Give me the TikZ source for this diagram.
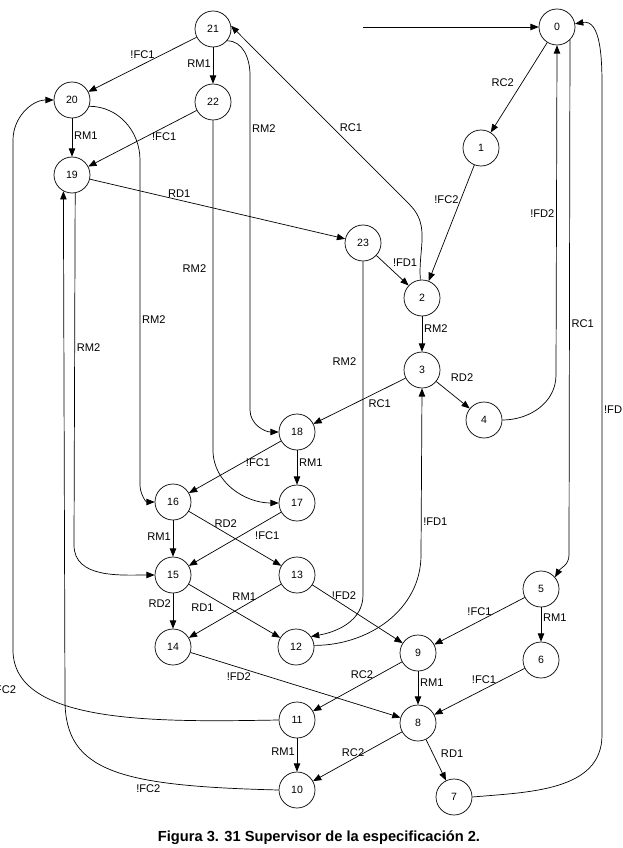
\documentclass[tikz,border=0pt]{standalone}
\usepackage{fontspec}
\setmainfont{Liberation Sans}
\usetikzlibrary{arrows.meta}

\begin{document}
\begin{tikzpicture}[x=0.03cm, y=-0.03cm,
		st/.style={draw, circle, minimum size=1.08cm, inner sep=0pt, line width=0.6pt, font=\fontsize{9}{10}\selectfont},
		arr/.style={-{Triangle[length=7pt,width=5.5pt]}, line width=0.6pt},
		lbl/.style={font=\fontsize{9.5}{11}\selectfont, inner sep=1.5pt}]
		% Frame
		\useasboundingbox (0,0) rectangle (623,848);
		
		% States
		\node[st] (s0) at (557,27) {0};
		\node[st] (s1) at (481,148) {1};
		\node[st] (s2) at (422,298) {2};
		\node[st] (s3) at (422,370) {3};
		\node[st] (s4) at (484,420) {4};
		\node[st] (s5) at (541,589) {5};
		\node[st] (s6) at (541,660) {6};
		\node[st] (s7) at (454,797) {7};
		\node[st] (s8) at (418,723) {8};
		\node[st] (s9) at (418,653) {9};
		\node[st] (s10) at (297,790) {10};
		\node[st] (s11) at (297,720) {11};
		\node[st] (s12) at (296,647) {12};
		\node[st] (s13) at (297,575) {13};
		\node[st] (s14) at (173,647) {14};
		\node[st] (s15) at (173,575) {15};
		\node[st] (s16) at (173,502) {16};
		\node[st] (s17) at (297,503) {17};
		\node[st] (s18) at (297,432) {18};
		\node[st] (s19) at (72,175) {19};
		\node[st] (s20) at (72,100) {20};
		\node[st] (s21) at (213,29) {21};
		\node[st] (s22) at (213,102) {22};
		\node[st] (s23) at (363,243) {23};
		
		% Initial arrow
		\coordinate (init) at (363,27);
		\draw[arr] (init) -- (s0);
		
		% Straight transitions
		\draw[arr] (s21) -- (s20) node[lbl, midway, above=3pt] {!FC1};
		\draw[arr] (s21) -- (s22) node[lbl, pos=0.45, left] {RM1};
		\draw[arr] (s20) -- (s19) node[lbl, pos=0.45, right] {RM1};
		\draw[arr] (s22) -- (s19) node[lbl, pos=0.3, below=3pt] {!FC1};
		\draw[arr] (s19) -- (s23) node[lbl, pos=0.35, above] {RD1};
		\draw[arr] (s0) -- (s1) node[lbl, pos=0.45, left=5pt] {RC2};
		\draw[arr] (s1) -- (s2) node[lbl, pos=0.3, left] {!FC2};
		\draw[arr] (s23) -- (s2) node[lbl, pos=0.45, above right] {!FD1};
		\draw[arr] (s2) -- (s3) node[lbl, pos=0.35, right] {RM2};
		\draw[arr] (s3) -- (s4) node[lbl, pos=0.2, above right, xshift=5pt, yshift=3pt] {RD2};
		\draw[arr] (s3) -- (s18) node[lbl, pos=0.28, below=6pt] {RC1};
		\draw[arr] (s18) -- (s16) node[lbl, pos=0.25, below=2pt] {!FC1};
		\draw[arr] (s18) -- (s17) node[lbl, pos=0.35, right] {RM1};
		\draw[arr] (s17) -- (s15) node[lbl, pos=0.15, below=8pt] {!FC1};
		\draw[arr] (s16) -- (s15) node[lbl, pos=0.45, left] {RM1};
		\draw[arr] (s16) -- (s13) node[lbl, pos=0.4, above=3pt] {RD2};
		\draw[arr] (s13) -- (s9) node[lbl, pos=0.35, above=3pt] {!FD2};
		\draw[arr] (s13) -- (s14) node[lbl, pos=0.4, above=3pt] {RM1};
		\draw[arr] (s15) -- (s14) node[lbl, pos=0.3, left] {RD2};
		\draw[arr] (s15) -- (s12) node[lbl, pos=0.15, below=8pt] {RD1};
		\draw[arr] (s14) -- (s8) node[lbl, pos=0.23, below=3pt] {!FD2};
		\draw[arr] (s5) -- (s9) node[lbl, pos=0.5, above=3pt] {!FC1};
		\draw[arr] (s5) -- (s6) node[lbl, pos=0.3, right] {RM1};
		\draw[arr] (s6) -- (s8) node[lbl, pos=0.45, above=3pt] {!FC1};
		\draw[arr] (s9) -- (s11) node[lbl, pos=0.45, above=3pt] {RC2};
		\draw[arr] (s9) -- (s8) node[lbl, pos=0.35, right] {RM1};
		\draw[arr] (s8) -- (s10) node[lbl, pos=0.55, above] {RC2};
		\draw[arr] (s8) -- (s7) node[lbl, pos=0.35, right=5pt] {RD1};
		\draw[arr] (s11) -- (s10) node[lbl, pos=0.4, left] {RM1};
		
		% Long RM2 transitions
		\draw[arr] (s21.-40) to[out=0,in=90] (250,75) -- node[lbl, pos=0.16, right] {RM2} (250,410) to[out=-90,in=180] (s18.west);
		\draw[arr] (s20.-20) to[out=0,in=90] (140,160) -- node[lbl, pos=0.49, right] {RM2} (140,485) to[out=-90,in=180] (s16.west);
		\draw[arr] (s22.south) -- node[lbl, pos=0.45, left=4pt] {RM2} (213,450) to[out=-90,in=180] (s17.west);
		\draw[arr] (s19.-80) -- node[lbl, pos=0.44, right] {RM2} (74,545) to[out=-90,in=180] (s15.west);
		\draw[arr] (s23.south) -- node[lbl, pos=0.3, left=4pt] {RM2} (363,595) to[out=-90,in=10] (s12.35);
		
		% Returns
		\draw[arr] (s2.95) to[out=95,in=-45] (410,205) -- node[lbl, pos=0.43, right=4pt] {RC1} (s21.10);
		\draw[arr] (s4.east) to[out=0,in=-90] (556,375) -- node[lbl, pos=0.49, left] {!FD2} (s0.south);
		\draw[arr] (s0.-45) -- node[lbl, pos=0.55, right] {RC1} (569,555) to[out=-90,in=60] (s5.40);
		\draw[arr] (s7.east) to[out=5,in=-90] (602,735) -- node[lbl, pos=0.5, right] {!FD} (602,85) to[out=90,in=10] (s0.10);
		\draw[arr] (s12.5) to[out=0,in=-90] (421,555) -- node[lbl, pos=0.2, right] {!FD1} (s3.south);
		\draw[arr] (s11.west) .. controls (160,722) and (13,725) .. (13,650) -- (13,140) to[out=90,in=180] (s20.west);
		\node[lbl, anchor=east] (fc2l) at (18,690) {!FC2};
		\draw[arr] (s10.west) .. controls (120,786) and (65,772) .. node[lbl, pos=0.3, below left] {!FC2} (65,700) -- (s19.-118);
		
		% Caption
		\node[font=\fontsize{12.5}{15}\selectfont\bfseries] (cap) at (319,838) {Figura 3. 31 Supervisor de la especificación 2.};
	\end{tikzpicture}
\end{document}
